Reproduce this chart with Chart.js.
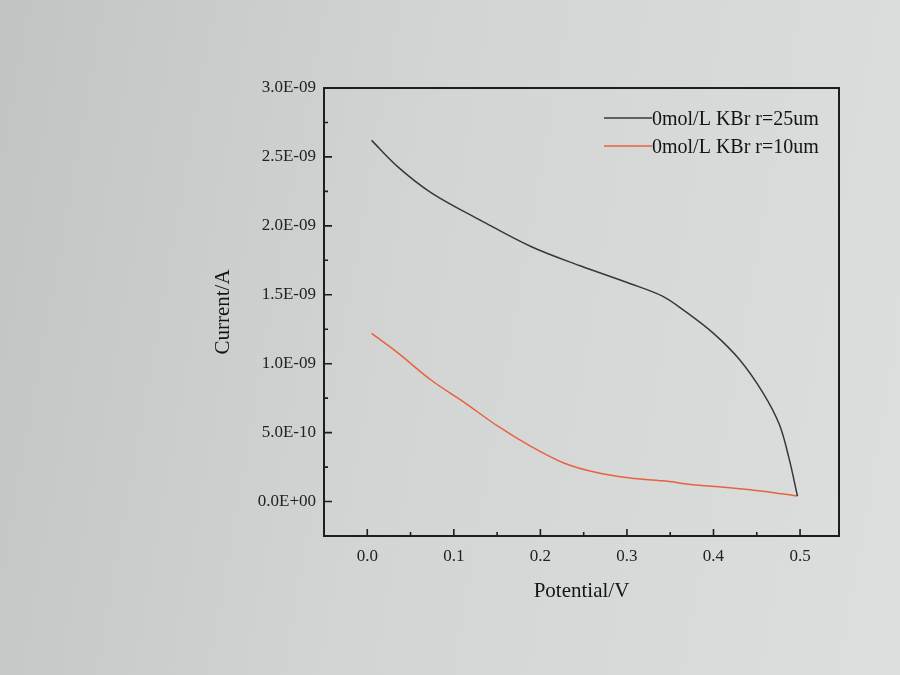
<!DOCTYPE html>
<html>
<head>
<meta charset="utf-8">
<script src="https://cdn.jsdelivr.net/npm/chart.js@4.4.1/dist/chart.umd.min.js"></script>
<style>
html, body { margin: 0; padding: 0; }
body { width: 900px; height: 675px; background: linear-gradient(100deg, #c2c3c3 0%, #d3d4d4 45%, #dddede 100%); }
#wrap { position: relative; width: 900px; height: 675px; }
</style>
</head>
<body>
<div id="wrap"><canvas id="chart" width="900" height="675"></canvas></div>
<script>
// r=25um curve (black)
const xBlack = [0.005, 0.035, 0.074, 0.131, 0.189, 0.246, 0.304, 0.341, 0.365, 0.400, 0.430, 0.457, 0.476, 0.487, 0.497];
const yBlack = [2.62e-9, 2.43e-9, 2.24e-9, 2.04e-9, 1.85e-9, 1.71e-9, 1.58e-9, 1.49e-9, 1.39e-9, 1.22e-9, 1.03e-9, 0.79e-9, 0.56e-9, 0.32e-9, 0.04e-9];
// r=10um curve (red)
const xRed = [0.005, 0.035, 0.074, 0.112, 0.150, 0.189, 0.227, 0.265, 0.304, 0.341, 0.380, 0.419, 0.457, 0.497];
const yRed = [1.22e-9, 1.08e-9, 0.88e-9, 0.72e-9, 0.55e-9, 0.40e-9, 0.28e-9, 0.21e-9, 0.17e-9, 0.15e-9, 0.12e-9, 0.10e-9, 0.075e-9, 0.04e-9];

const seriesLabels = ['0mol/L KBr r=25um', '0mol/L KBr r=10um'];
const xTicks = [0.0, 0.1, 0.2, 0.3, 0.4, 0.5];
const yTicks = [0, 5e-10, 1e-9, 1.5e-9, 2e-9, 2.5e-9, 3e-9];

const serif = '"Liberation Serif", "DejaVu Serif", serif';

const pts = (xs, ys) => xs.map((x, i) => ({ x: x, y: ys[i] }));

const sciLabel = (v) => {
	if (Math.abs(v) < 1e-20) return '0.0E+00';
	let e = Math.floor(Math.log10(Math.abs(v)) + 1e-9);
	let m = v / Math.pow(10, e);
	let s = e < 0 ? '-' : '+';
	return m.toFixed(1) + 'E' + s + String(Math.abs(e)).padStart(2, '0');
};

// frame + inward ticks
const frameTicks = {
	id: 'frameTicks',
	afterDraw(chart) {
		const { ctx, chartArea: a, scales } = chart;
		const sx = scales.x, sy = scales.y;
		ctx.save();
		ctx.strokeStyle = '#1e1e1e';
		ctx.lineWidth = 1.6;
		ctx.beginPath();
		xTicks.forEach((v, i) => {
			const px = sx.getPixelForValue(v);
			ctx.moveTo(px, a.bottom); ctx.lineTo(px, a.bottom - 7);
			if (i < xTicks.length - 1) {
				const mx = sx.getPixelForValue((v + xTicks[i + 1]) / 2);
				ctx.moveTo(mx, a.bottom); ctx.lineTo(mx, a.bottom - 4);
			}
		});
		yTicks.forEach((v, i) => {
			const py = sy.getPixelForValue(v);
			ctx.moveTo(a.left, py); ctx.lineTo(a.left + 8, py);
			if (i < yTicks.length - 1) {
				const my = sy.getPixelForValue((v + yTicks[i + 1]) / 2);
				ctx.moveTo(a.left, my); ctx.lineTo(a.left + 4, my);
			}
		});
		ctx.stroke();
		ctx.lineWidth = 2;
		ctx.strokeRect(a.left, a.top, a.right - a.left, a.bottom - a.top);
		ctx.restore();
	}
};

// legend drawn inside the plot, top right
const innerLegend = {
	id: 'innerLegend',
	afterDraw(chart) {
		const { ctx, chartArea: a } = chart;
		ctx.save();
		ctx.font = '20px ' + serif;
		ctx.textBaseline = 'middle';
		ctx.textAlign = 'left';
		chart.data.datasets.forEach((ds, i) => {
			const y = a.top + 30 + i * 28;
			ctx.strokeStyle = ds.borderColor;
			ctx.lineWidth = 1.5;
			ctx.beginPath();
			ctx.moveTo(a.right - 235, y);
			ctx.lineTo(a.right - 187, y);
			ctx.stroke();
			ctx.fillStyle = '#141414';
			ctx.fillText(ds.label, a.right - 187, y + 2);
		});
		ctx.restore();
	}
};

const drawChart = () => {
	const chart = new Chart(document.getElementById('chart'), {
		type: 'line',
		data: {
			datasets: [{
				label: seriesLabels[0],
				data: pts(xBlack, yBlack),
				borderColor: '#383838',
				borderWidth: 1.5,
				pointRadius: 0,
				tension: 0.35
			}, {
				label: seriesLabels[1],
				data: pts(xRed, yRed),
				borderColor: '#e8623f',
				borderWidth: 1.5,
				pointRadius: 0,
				tension: 0.35
			}]
		},
		options: {
			responsive: false,
			animation: false,
			layout: { padding: { left: 207, right: 61, top: 88, bottom: 67 } },
			plugins: {
				legend: { display: false },
				tooltip: { enabled: false }
			},
			scales: {
				x: {
					type: 'linear',
					min: -0.05,
					max: 0.545,
					grid: { display: false, drawTicks: false },
					border: { display: false },
					afterBuildTicks: (s) => { s.ticks = xTicks.map(v => ({ value: v })); },
					afterFit: (s) => { s.height = 72; },
					ticks: {
						autoSkip: false,
						maxRotation: 0,
						padding: 10,
						color: '#222',
						font: { family: serif, size: 17 },
						callback: (v) => Number(v).toFixed(1)
					},
					title: {
						display: true,
						text: 'Potential/V',
						color: '#141414',
						font: { family: serif, size: 21 }
					}
				},
				y: {
					type: 'linear',
					min: -2.5e-10,
					max: 3e-9,
					grid: { display: false, drawTicks: false },
					border: { display: false },
					afterBuildTicks: (s) => { s.ticks = yTicks.map(v => ({ value: v })); },
					afterFit: (s) => { s.width = 117; },
					ticks: {
						autoSkip: false,
						padding: 8,
						color: '#222',
						font: { family: serif, size: 17 },
						callback: (v) => sciLabel(v)
					},
					title: {
						display: true,
						text: 'Current/A',
						color: '#141414',
						font: { family: serif, size: 21 }
					}
				}
			}
		},
		plugins: [frameTicks, innerLegend]
	});
};

drawChart();
</script>
</body>
</html>
